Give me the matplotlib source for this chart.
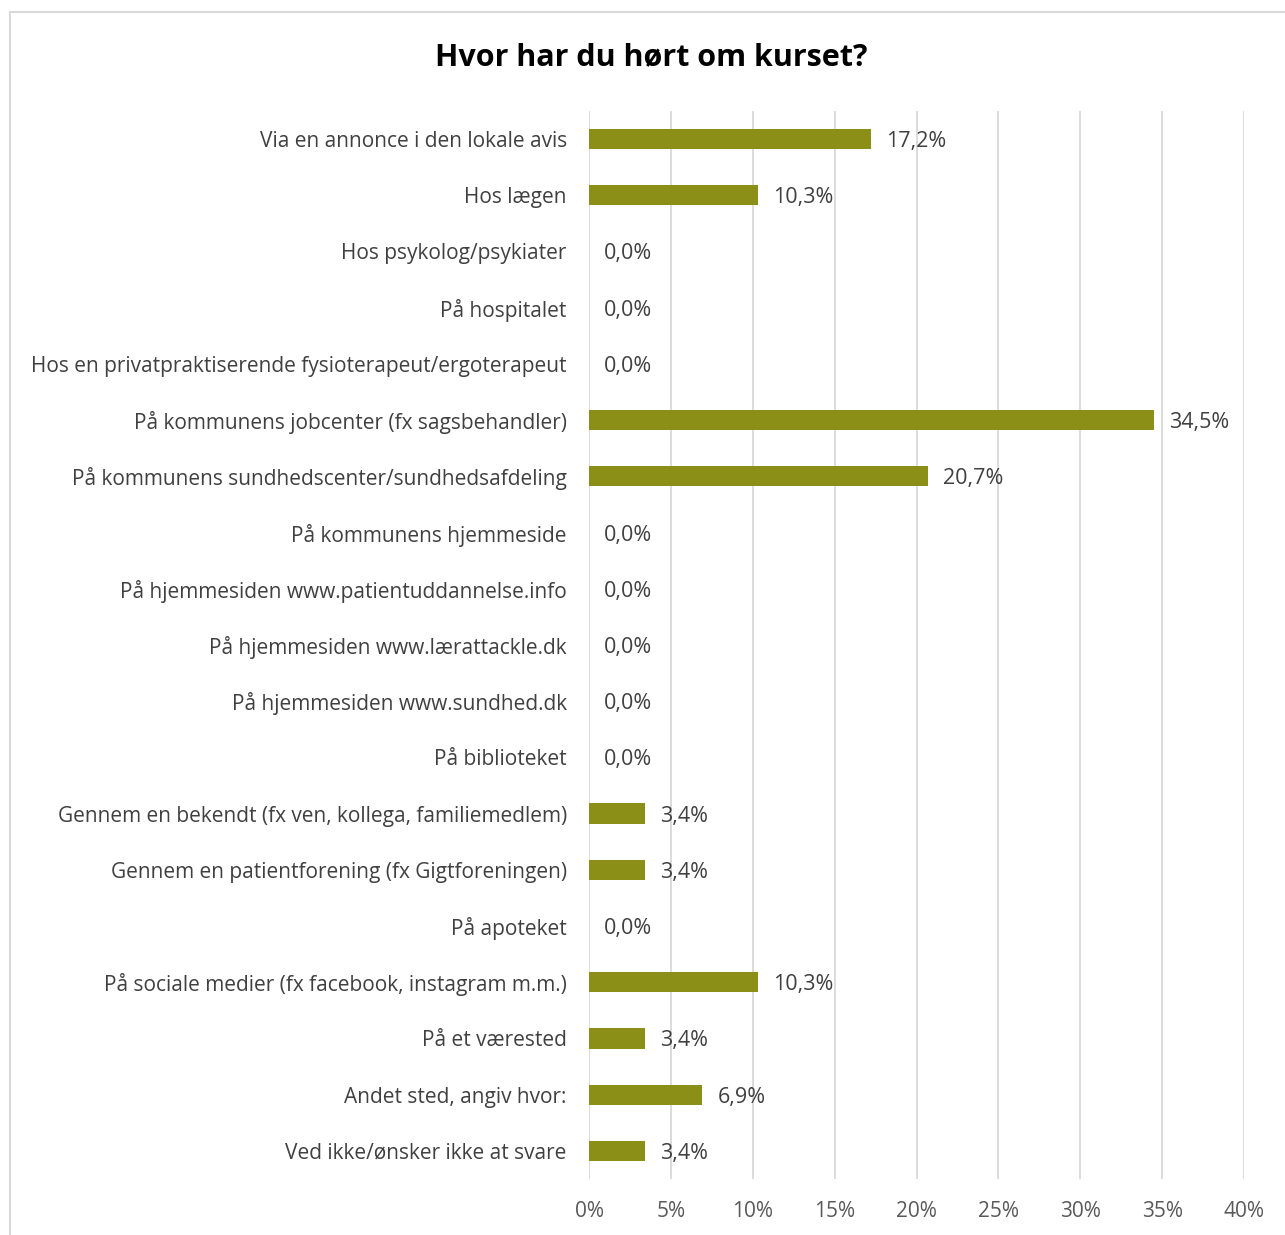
import matplotlib.pyplot as plt
from matplotlib.patches import Rectangle

# survey answers, top to bottom as shown in the chart
categories = [
    "Via en annonce i den lokale avis",
    "Hos lægen",
    "Hos psykolog/psykiater",
    "På hospitalet",
    "Hos en privatpraktiserende fysioterapeut/ergoterapeut",
    "På kommunens jobcenter (fx sagsbehandler)",
    "På kommunens sundhedscenter/sundhedsafdeling",
    "På kommunens hjemmeside",
    "På hjemmesiden www.patientuddannelse.info",
    "På hjemmesiden www.lærattackle.dk",
    "På hjemmesiden www.sundhed.dk",
    "På biblioteket",
    "Gennem en bekendt (fx ven, kollega, familiemedlem)",
    "Gennem en patientforening (fx Gigtforeningen)",
    "På apoteket",
    "På sociale medier (fx facebook, instagram m.m.)",
    "På et værested",
    "Andet sted, angiv hvor:",
    "Ved ikke/ønsker ikke at svare",
]
percent = [17.2, 10.3, 0.0, 0.0, 0.0, 34.5, 20.7, 0.0, 0.0, 0.0, 0.0, 0.0,
           3.4, 3.4, 0.0, 10.3, 3.4, 6.9, 3.4]
xticks = [0, 5, 10, 15, 20, 25, 30, 35, 40]

plt.rcParams['font.family'] = ['Open Sans', 'DejaVu Sans']

fig = plt.figure(figsize=(12.85, 12.35), dpi=100)
ax = fig.add_axes([589 / 1285, 1 - 1179 / 1235, (1244 - 589) / 1285, (1179 - 110.9) / 1235])

# light grey chart frame
fig.patches.append(Rectangle((9.5 / 1285, -0.1), 1.2, 1.1 - 12.5 / 1235,
                             transform=fig.transFigure, fill=False,
                             edgecolor="#d9d9d9", linewidth=1.5))

ypos = list(range(len(categories)))
ax.barh(ypos, percent, height=0.36, color="#8b8e17")
ax.set_ylim(len(categories) - 0.5, -0.5)
ax.set_xlim(0, 40)

for y, v in zip(ypos, percent):
    ax.annotate(f"{v:.1f}%".replace(".", ","), (v, y), xytext=(11, 0),
                textcoords="offset points", va="center_baseline", ha="left",
                fontsize=15.5, color="#404040")

ax.set_yticks(ypos)
ax.set_yticklabels(categories, fontsize=15, color="#404040")
ax.set_xticks(xticks)
ax.set_xticklabels([f"{t}%" for t in xticks], fontsize=15, color="#595959")
ax.tick_params(axis="y", length=0, pad=16)
ax.tick_params(axis="x", length=0, pad=16)

ax.grid(axis="x", color="#d9d9d9", linewidth=1.3)
ax.set_axisbelow(True)
for s in ax.spines.values():
    s.set_visible(False)

fig.text(651 / 1285, 1 - 57 / 1235, "Hvor har du hørt om kurset?",
         ha="center", va="center", fontsize=22, fontweight="bold", color="black")

plt.savefig("out.png", dpi=100)
